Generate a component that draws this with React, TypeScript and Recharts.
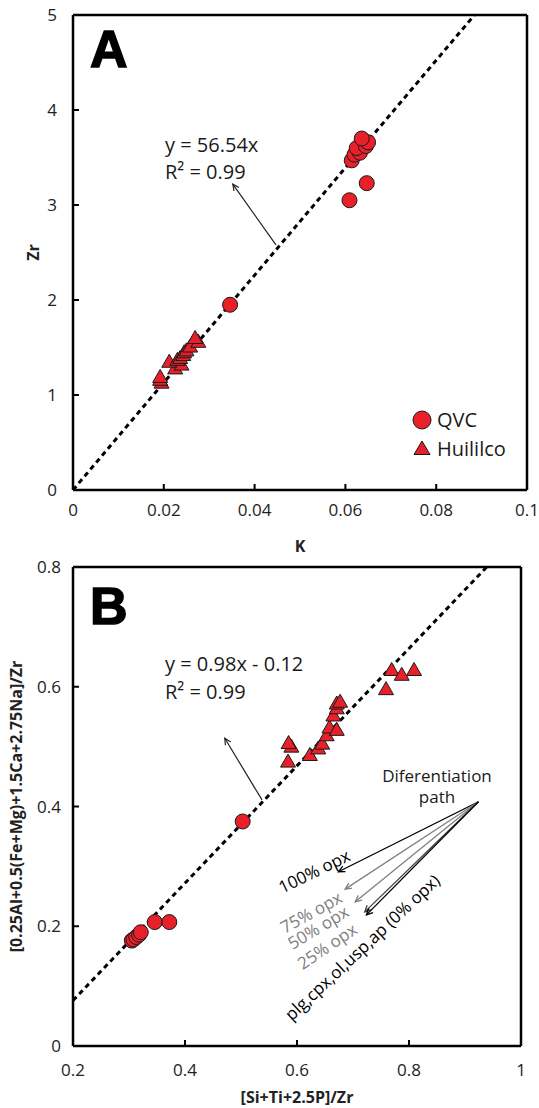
import React from 'react';
import { ScatterChart, Scatter, XAxis, YAxis, ReferenceLine, Label } from 'recharts';

const RED = '#e8202a';
const FONT = '"Open Sans", "Noto Sans", sans-serif';

// ---- panel A: K vs Zr ----
const kTicks = [0, 0.02, 0.04, 0.06, 0.08, 0.1];
const zrTicks = [0, 1, 2, 3, 4, 5];

const qvcA = [
  { k: 0.0346, zr: 1.95 },
  { k: 0.0609, zr: 3.05 },
  { k: 0.0647, zr: 3.23 },
  { k: 0.0614, zr: 3.47 },
  { k: 0.062, zr: 3.53 },
  { k: 0.0632, zr: 3.55 },
  { k: 0.0625, zr: 3.6 },
  { k: 0.0645, zr: 3.62 },
  { k: 0.065, zr: 3.66 },
  { k: 0.0636, zr: 3.7 },
];

const huililcoA = [
  { k: 0.0195, zr: 1.13 },
  { k: 0.0192, zr: 1.16 },
  { k: 0.0192, zr: 1.19 },
  { k: 0.0225, zr: 1.28 },
  { k: 0.0239, zr: 1.32 },
  { k: 0.0212, zr: 1.35 },
  { k: 0.023, zr: 1.37 },
  { k: 0.0236, zr: 1.39 },
  { k: 0.0243, zr: 1.42 },
  { k: 0.0245, zr: 1.45 },
  { k: 0.025, zr: 1.47 },
  { k: 0.0258, zr: 1.51 },
  { k: 0.0276, zr: 1.56 },
  { k: 0.0269, zr: 1.6 },
];

const fitA = { slope: 56.54, intercept: 0 };
const eqA = ['y = 56.54x', 'R\u00B2 = 0.99'];
// arrow from the fit line to the equation text (data coords)
const eqArrowA = [{ x: 0.0447, y: 2.58 }, { x: 0.0352, y: 3.22 }];

// ---- panel B: [Si+Ti+2.5P]/Zr vs [0.25Al+...]/Zr ----
const xbTicks = [0.2, 0.4, 0.6, 0.8, 1];
const ybTicks = [0, 0.2, 0.4, 0.6, 0.8];

const qvcB = [
  { x: 0.305, y: 0.176 },
  { x: 0.308, y: 0.178 },
  { x: 0.313, y: 0.182 },
  { x: 0.318, y: 0.186 },
  { x: 0.321, y: 0.19 },
  { x: 0.346, y: 0.207 },
  { x: 0.372, y: 0.207 },
  { x: 0.503, y: 0.375 },
];

const huililcoB = [
  { x: 0.584, y: 0.475 },
  { x: 0.59, y: 0.5 },
  { x: 0.585, y: 0.506 },
  { x: 0.623, y: 0.486 },
  { x: 0.638, y: 0.497 },
  { x: 0.645, y: 0.505 },
  { x: 0.653, y: 0.519 },
  { x: 0.658, y: 0.532 },
  { x: 0.671, y: 0.528 },
  { x: 0.665, y: 0.552 },
  { x: 0.671, y: 0.564 },
  { x: 0.671, y: 0.572 },
  { x: 0.677, y: 0.575 },
  { x: 0.759, y: 0.596 },
  { x: 0.769, y: 0.628 },
  { x: 0.787, y: 0.62 },
  { x: 0.809, y: 0.628 },
];

const fitB = { slope: 0.98, intercept: -0.12 };
const eqB = ['y = 0.98x - 0.12', 'R\u00B2 = 0.99'];
const eqArrowB = [{ x: 0.5375, y: 0.411 }, { x: 0.471, y: 0.514 }];

// differentiation path vectors
const pathOrigin = { x: 0.924, y: 0.408 };
const pathEnds = [
  { name: '100% opx', x: 0.674, y: 0.291, color: '#000' },
  { name: '75% opx', x: 0.686, y: 0.262, color: '#808080' },
  { name: '50% opx', x: 0.704, y: 0.241, color: '#808080' },
  { name: '25% opx', x: 0.721, y: 0.224, color: '#404040' },
  { name: 'plg,cpx,ol,usp,ap (0% opx)', x: 0.724, y: 0.219, color: '#000' },
];

const axisLine = { stroke: '#000', strokeWidth: 2.5 };
const tickLine = { stroke: '#000', strokeWidth: 2 };
const tickStyle = { fill: '#222', fontSize: 17, fontFamily: FONT };

const circleShape = (p: any) => (
  <circle cx={p.cx} cy={p.cy} r={7.5} fill={RED} stroke="#1a1a1a" strokeWidth={1} />
);
const triangleShape = (p: any) => (
  <polygon
    points={`${p.cx},${p.cy - 7.5} ${p.cx - 7.5},${p.cy + 5.5} ${p.cx + 7.5},${p.cy + 5.5}`}
    fill={RED}
    stroke="#1a1a1a"
    strokeWidth={1}
  />
);

const arrowShape = (color: string, w = 1.2) => (p: any) => {
  const { x1, y1, x2, y2 } = p;
  if ([x1, y1, x2, y2].some((v) => typeof v !== 'number')) return <g />;
  const a = Math.atan2(y2 - y1, x2 - x1);
  const L = 7;
  const ax = x2 - L * Math.cos(a - 0.45);
  const ay = y2 - L * Math.sin(a - 0.45);
  const bx = x2 - L * Math.cos(a + 0.45);
  const by = y2 - L * Math.sin(a + 0.45);
  return (
    <g>
      <line x1={x1} y1={y1} x2={x2} y2={y2} stroke={color} strokeWidth={w} />
      <path d={`M${ax},${ay} L${x2},${y2} L${bx},${by}`} fill="none" stroke={color} strokeWidth={w} />
    </g>
  );
};

const fitSegment = (fit: { slope: number; intercept: number }, x0: number, yMax: number) => [
  { x: x0, y: fit.slope * x0 + fit.intercept },
  { x: (yMax - fit.intercept) / fit.slope, y: yMax },
];

const title = (text: string, dx: number, dy: number, angle = 0, size = 16) => (props: any) => {
  const vb = props.viewBox || { x: 0, y: 0, width: 0, height: 0 };
  const x = angle ? vb.x + dx : vb.x + vb.width / 2;
  const y = angle ? vb.y + vb.height / 2 : vb.y + dy;
  return (
    <text
      x={x}
      y={y}
      transform={angle ? `rotate(${angle} ${x} ${y})` : undefined}
      textAnchor="middle"
      dominantBaseline="central"
      fontFamily={FONT}
      fontWeight={700}
      fontSize={size}
      fill="#222"
    >
      {text}
    </text>
  );
};

function PanelA() {
  return (
    <ScatterChart width={539} height={560} margin={{ top: 15, right: 12, bottom: 0, left: 0 }}>
      <XAxis
        type="number"
        dataKey="k"
        domain={[0, 0.1]}
        ticks={kTicks}
        height={70}
        axisLine={axisLine}
        tickLine={tickLine}
        tickSize={-6}
        tickMargin={20}
        tick={tickStyle}
        interval={0}
      >
        <Label content={title('K', 0, 56)} />
      </XAxis>
      <XAxis xAxisId="top" orientation="top" type="number" domain={[0, 0.1]} ticks={kTicks} mirror
        allowDataOverflow axisLine={axisLine} tickLine={tickLine} tickSize={6} tick={false} height={1} />
      <YAxis
        type="number"
        dataKey="zr"
        domain={[0, 5]}
        ticks={zrTicks}
        width={73}
        axisLine={axisLine}
        tickLine={tickLine}
        tickSize={-6}
        tickMargin={22}
        tick={tickStyle}
        interval={0}
      >
        <Label content={title('Zr', 33, 0, -90)} />
      </YAxis>
      <YAxis yAxisId="right" orientation="right" type="number" domain={[0, 5]} ticks={zrTicks} mirror
        allowDataOverflow axisLine={axisLine} tickLine={tickLine} tickSize={6} tick={false} width={1} />
      <ReferenceLine segment={fitSegment(fitA, 0, 5)} stroke="#000" strokeWidth={3} strokeDasharray="5 4" />
      <ReferenceLine segment={eqArrowA} shape={arrowShape('#222', 1.2)} />
      <Scatter name="QVC" data={qvcA} shape={circleShape} isAnimationActive={false} />
      <Scatter name="Huililco" data={huililcoA} shape={triangleShape} isAnimationActive={false} />
    </ScatterChart>
  );
}

function PanelB() {
  return (
    <ScatterChart width={539} height={558} margin={{ top: 17, right: 18, bottom: 0, left: 0 }}>
      <XAxis
        type="number"
        dataKey="x"
        domain={[0.2, 1]}
        ticks={xbTicks}
        height={62}
        axisLine={axisLine}
        tickLine={tickLine}
        tickSize={-6}
        tickMargin={24}
        tick={tickStyle}
        interval={0}
      >
        <Label content={title('[Si+Ti+2.5P]/Zr', 0, 51)} />
      </XAxis>
      <XAxis xAxisId="top" orientation="top" type="number" domain={[0.2, 1]} ticks={xbTicks} mirror
        allowDataOverflow axisLine={axisLine} tickLine={tickLine} tickSize={6} tick={false} height={1} />
      <YAxis
        type="number"
        dataKey="y"
        domain={[0, 0.8]}
        ticks={ybTicks}
        width={73}
        axisLine={axisLine}
        tickLine={tickLine}
        tickSize={-6}
        tickMargin={18}
        tick={tickStyle}
        interval={0}
      >
        <Label content={title('[0.25Al+0.5(Fe+Mg)+1.5Ca+2.75Na]/Zr', 15.5, 0, -90)} />
      </YAxis>
      <YAxis yAxisId="right" orientation="right" type="number" domain={[0, 0.8]} ticks={ybTicks} mirror
        allowDataOverflow axisLine={axisLine} tickLine={tickLine} tickSize={6} tick={false} width={1} />
      <ReferenceLine segment={fitSegment(fitB, 0.2, 0.8)} stroke="#000" strokeWidth={3} strokeDasharray="5 4" />
      <ReferenceLine segment={eqArrowB} shape={arrowShape('#222', 1.2)} />
      {pathEnds.map((e) => (
        <ReferenceLine key={e.name} segment={[pathOrigin, { x: e.x, y: e.y }]} shape={arrowShape(e.color, 1.3)} />
      ))}
      <Scatter name="QVC" data={qvcB} shape={circleShape} isAnimationActive={false} />
      <Scatter name="Huililco" data={huililcoB} shape={triangleShape} isAnimationActive={false} />
    </ScatterChart>
  );
}

// rotated labels for the differentiation vectors: [centre x, centre y, angle]
const pathLabelPos: [number, number, number][] = [
  [314, 871, -26],
  [311, 912, -29],
  [318, 927, -31],
  [327, 946, -34],
  [362, 947, -43],
];

export default function App() {
  const txt = { fontFamily: FONT, fontSize: 17, fill: '#1a1a1a' } as const;
  return (
    <div style={{ position: 'absolute', left: 0, top: 0, width: 539, height: 1108, background: '#fff' }}>
      <div style={{ position: 'absolute', left: 0, top: 0 }}>
        <PanelA />
      </div>
      <div style={{ position: 'absolute', left: 0, top: 550 }}>
        <PanelB />
      </div>
      <svg width={539} height={1108} style={{ position: 'absolute', left: 0, top: 0, pointerEvents: 'none' }}>
        <text x={90} y={67} fontFamily='"Liberation Sans", Arial, sans-serif' fontWeight={700} fontSize={52}
          fill="#000" stroke="#000" strokeWidth={1.5}>A</text>
        <text x={90} y={624} fontFamily='"Liberation Sans", Arial, sans-serif' fontWeight={700} fontSize={52}
          fill="#000" stroke="#000" strokeWidth={1.5}>B</text>

        <text x={165} y={152} {...txt} fontSize={20}>{eqA[0]}</text>
        <text x={165} y={179} {...txt} fontSize={20}>{eqA[1]}</text>
        <text x={165} y={671} {...txt} fontSize={20}>{eqB[0]}</text>
        <text x={165} y={699} {...txt} fontSize={20}>{eqB[1]}</text>

        <text x={437} y={782} {...txt} textAnchor="middle">Diferentiation</text>
        <text x={437} y={803} {...txt} textAnchor="middle">path</text>
        {pathEnds.map((e, i) => {
          const [cx, cy, a] = pathLabelPos[i];
          return (
            <text key={e.name} x={cx} y={cy} {...txt} fill={e.color === '#404040' ? '#808080' : e.color}
              textAnchor="middle" dominantBaseline="central" transform={`rotate(${a} ${cx} ${cy})`}>
              {e.name}
            </text>
          );
        })}
      </svg>
      {/* legend, panel A */}
      <div style={{ position: 'absolute', left: 410, top: 405, fontFamily: FONT, fontSize: 20, color: '#1a1a1a', lineHeight: '29px' }}>
        {[{ name: 'QVC', circle: true }, { name: 'Huililco', circle: false }].map((s) => (
          <div key={s.name} style={{ display: 'flex', alignItems: 'center', height: 29 }}>
            <svg width={24} height={24} style={{ marginRight: 3 }}>
              {s.circle ? (
                <circle cx={12} cy={12} r={9} fill={RED} stroke="#1a1a1a" strokeWidth={1} />
              ) : (
                <polygon points="12,4 4,17.5 20,17.5" fill={RED} stroke="#1a1a1a" strokeWidth={1} />
              )}
            </svg>
            {s.name}
          </div>
        ))}
      </div>
    </div>
  );
}
